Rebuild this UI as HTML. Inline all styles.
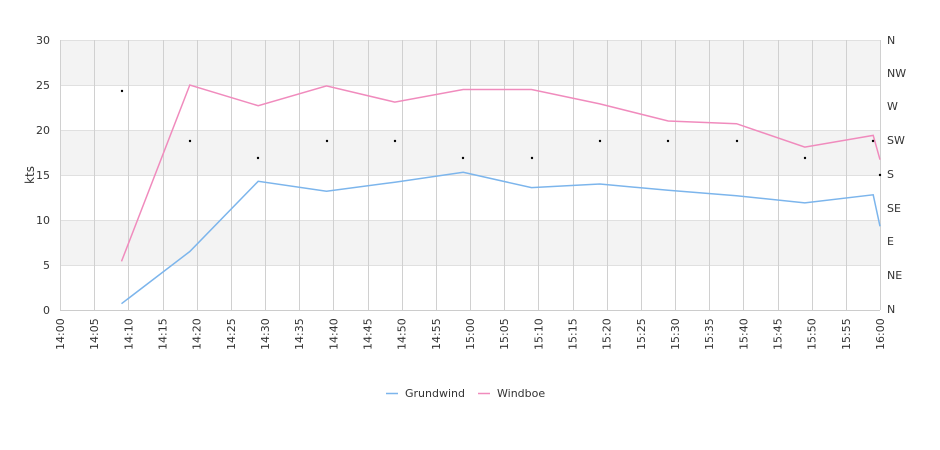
<!DOCTYPE html>
<html><head><style>
body{margin:0;background:#fff;}
svg{display:block;font-family:"DejaVu Sans","Liberation Sans",sans-serif;}
</style></head><body>
<svg width="940" height="450" viewBox="0 0 940 450">
<rect x="60" y="40" width="820" height="45" fill="#f3f3f3"/>
<rect x="60" y="130" width="820" height="45" fill="#f3f3f3"/>
<rect x="60" y="220" width="820" height="45" fill="#f3f3f3"/>
<g stroke="#e0e0e0" stroke-width="1">
<line x1="60" y1="40.5" x2="880" y2="40.5"/><line x1="60" y1="85.5" x2="880" y2="85.5"/>
<line x1="60" y1="130.5" x2="880" y2="130.5"/><line x1="60" y1="175.5" x2="880" y2="175.5"/>
<line x1="60" y1="220.5" x2="880" y2="220.5"/><line x1="60" y1="265.5" x2="880" y2="265.5"/>
</g>
<g stroke="#d0d0d0" stroke-width="1" id="vg"></g>
<line x1="60" y1="310.5" x2="880" y2="310.5" stroke="#ccc"/>
<g font-size="11" fill="#333" text-anchor="end">
<text x="50" y="44">30</text><text x="50" y="89">25</text><text x="50" y="134">20</text>
<text x="50" y="179">15</text><text x="50" y="224">10</text><text x="50" y="269">5</text><text x="50" y="314">0</text>
</g>
<g font-size="11" fill="#333">
<text x="887" y="44">N</text><text x="887" y="77">NW</text><text x="887" y="110">W</text>
<text x="887" y="144">SW</text><text x="887" y="178">S</text><text x="887" y="212">SE</text>
<text x="887" y="245">E</text><text x="887" y="279">NE</text><text x="887" y="313">N</text>
</g>
<text transform="translate(34,175) rotate(-90)" font-size="12" fill="#333" text-anchor="middle">kts</text>
<g id="xl" font-size="11" fill="#333"></g>
<polyline fill="none" stroke="#7cb5ec" stroke-width="1.5" points="121.5,303.7 189.8,251.5 258.2,181.3 326.5,191.2 394.8,182.2 463.2,172.3 531.5,187.6 599.8,184 668.2,190.3 736.5,195.7 804.8,202.9 873.2,194.8 880,226.3"/>
<polyline fill="none" stroke="#f08bbd" stroke-width="1.5" points="121.5,261.4 189.8,85 258.2,105.7 326.5,85.9 394.8,102.1 463.2,89.5 531.5,89.5 599.8,103.9 668.2,121 736.5,123.7 804.8,147.1 873.2,135.4 880,159.7"/>
<g fill="#000">
<circle cx="122" cy="91" r="1.2"/><circle cx="190" cy="141" r="1.2"/><circle cx="258" cy="158" r="1.2"/>
<circle cx="327" cy="141" r="1.2"/><circle cx="395" cy="141" r="1.2"/><circle cx="463" cy="158" r="1.2"/>
<circle cx="532" cy="158" r="1.2"/><circle cx="600" cy="141" r="1.2"/><circle cx="668" cy="141" r="1.2"/>
<circle cx="737" cy="141" r="1.2"/><circle cx="805" cy="158" r="1.2"/><circle cx="873" cy="141" r="1.2"/>
<circle cx="880" cy="175" r="1.2"/>
</g>
<line x1="386" y1="393.5" x2="398" y2="393.5" stroke="#7cb5ec" stroke-width="1.5"/>
<text x="405" y="397" font-size="11" fill="#333">Grundwind</text>
<line x1="478" y1="393.5" x2="490" y2="393.5" stroke="#f08bbd" stroke-width="1.5"/>
<text x="497" y="397" font-size="11" fill="#333">Windboe</text>
</svg>
<script>
var vg=document.getElementById('vg'),xl=document.getElementById('xl'),ns='http://www.w3.org/2000/svg';
for(var i=0;i<=24;i++){var x=60+i*820/24;var l=document.createElementNS(ns,'line');
l.setAttribute('x1',Math.round(x)+.5);l.setAttribute('x2',Math.round(x)+.5);l.setAttribute('y1',40);l.setAttribute('y2',310);vg.appendChild(l);
var m=i*5,h=14+Math.floor(m/60),mm=m%60;var t=document.createElementNS(ns,'text');
t.setAttribute('transform','translate('+(x+4)+',350) rotate(-90)');t.textContent=h+':'+(mm<10?'0':'')+mm;xl.appendChild(t);}
</script>
</body></html>
